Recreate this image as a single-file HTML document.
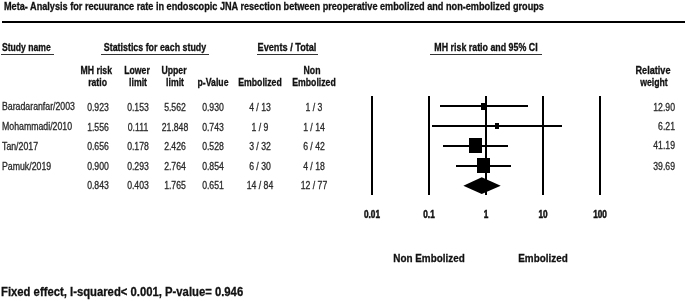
<!DOCTYPE html>
<html><head><meta charset="utf-8"><style>
html,body{margin:0;padding:0;background:#fff;}
body{width:685px;height:301px;position:relative;overflow:hidden;font-family:"Liberation Sans",sans-serif;}
.wrap{position:absolute;left:0;top:0;width:685px;height:301px;filter:blur(0.35px);}
.t{-webkit-text-stroke:0.3px currentColor;}
.t{position:absolute;white-space:nowrap;line-height:1;}
.r{position:absolute;}
</style></head><body><div class="wrap">
<div class="t" style="left:3.9px;top:0.61px;font-size:10.5px;font-weight:bold;transform:scaleX(0.87);transform-origin:0 0;color:#111;">Meta- Analysis for recuurance rate in endoscopic JNA resection between preoperative embolized and non-embolized groups</div>
<div class="r" style="left:1.5px;top:21.3px;width:683px;height:2px;background:#000"></div>
<div class="t" style="left:1.8px;top:43.23px;font-size:10px;font-weight:bold;transform:scaleX(0.86);transform-origin:0 0;color:#111;">Study name</div>
<div class="r" style="left:1px;top:54px;width:53px;height:1px;background:#333"></div>
<div class="t" style="left:154.8px;top:43.23px;font-size:10px;font-weight:bold;transform:translateX(-50%) scaleX(0.885);transform-origin:50% 0;color:#111;">Statistics for each study</div>
<div class="r" style="left:100.5px;top:54px;width:108.5px;height:1px;background:#333"></div>
<div class="t" style="left:287px;top:43.23px;font-size:10px;font-weight:bold;transform:translateX(-50%) scaleX(0.915);transform-origin:50% 0;color:#111;">Events / Total</div>
<div class="r" style="left:256.5px;top:54px;width:61px;height:1px;background:#333"></div>
<div class="t" style="left:485.6px;top:43.23px;font-size:10px;font-weight:bold;transform:translateX(-50%) scaleX(0.885);transform-origin:50% 0;color:#111;">MH risk ratio and 95% CI</div>
<div class="r" style="left:430.3px;top:54px;width:111.7px;height:1px;background:#333"></div>
<div class="t" style="left:112px;top:65.53px;font-size:10px;font-weight:bold;transform:translateX(-100%) scaleX(0.87);transform-origin:100% 0;color:#111;">MH risk</div>
<div class="t" style="left:107px;top:78.23px;font-size:10px;font-weight:bold;transform:translateX(-100%) scaleX(0.87);transform-origin:100% 0;color:#111;">ratio</div>
<div class="t" style="left:136.6px;top:65.53px;font-size:10px;font-weight:bold;transform:translateX(-50%) scaleX(0.87);transform-origin:50% 0;color:#111;">Lower</div>
<div class="t" style="left:137.5px;top:78.23px;font-size:10px;font-weight:bold;transform:translateX(-50%) scaleX(0.87);transform-origin:50% 0;color:#111;">limit</div>
<div class="t" style="left:173.7px;top:65.53px;font-size:10px;font-weight:bold;transform:translateX(-50%) scaleX(0.87);transform-origin:50% 0;color:#111;">Upper</div>
<div class="t" style="left:174.7px;top:78.23px;font-size:10px;font-weight:bold;transform:translateX(-50%) scaleX(0.87);transform-origin:50% 0;color:#111;">limit</div>
<div class="t" style="left:213.1px;top:78.23px;font-size:10px;font-weight:bold;transform:translateX(-50%) scaleX(0.87);transform-origin:50% 0;color:#111;">p-Value</div>
<div class="t" style="left:260px;top:78.23px;font-size:10px;font-weight:bold;transform:translateX(-50%) scaleX(0.87);transform-origin:50% 0;color:#111;">Embolized</div>
<div class="t" style="left:312.2px;top:65.53px;font-size:10px;font-weight:bold;transform:translateX(-50%) scaleX(0.87);transform-origin:50% 0;color:#111;">Non</div>
<div class="t" style="left:313.7px;top:78.23px;font-size:10px;font-weight:bold;transform:translateX(-50%) scaleX(0.87);transform-origin:50% 0;color:#111;">Embolized</div>
<div class="t" style="left:653.2px;top:65.53px;font-size:10px;font-weight:bold;transform:translateX(-50%) scaleX(0.91);transform-origin:50% 0;color:#111;">Relative</div>
<div class="t" style="left:654.4px;top:78.23px;font-size:10px;font-weight:bold;transform:translateX(-50%) scaleX(0.87);transform-origin:50% 0;color:#111;">weight</div>
<div class="t" style="left:1.6px;top:102.33px;font-size:10px;font-weight:normal;transform:scaleX(0.875);transform-origin:0 0;color:#2a2a2a;">Baradaranfar/2003</div>
<div class="t" style="left:97.8px;top:102.23px;font-size:10.6px;font-weight:normal;transform:translateX(-50%) scaleX(0.82);transform-origin:50% 0;color:#2a2a2a;">0.923</div>
<div class="t" style="left:137.9px;top:102.23px;font-size:10.6px;font-weight:normal;transform:translateX(-50%) scaleX(0.82);transform-origin:50% 0;color:#2a2a2a;">0.153</div>
<div class="t" style="left:175.0px;top:102.23px;font-size:10.6px;font-weight:normal;transform:translateX(-50%) scaleX(0.82);transform-origin:50% 0;color:#2a2a2a;">5.562</div>
<div class="t" style="left:213.2px;top:102.23px;font-size:10.6px;font-weight:normal;transform:translateX(-50%) scaleX(0.82);transform-origin:50% 0;color:#2a2a2a;">0.930</div>
<div class="t" style="left:260.2px;top:102.23px;font-size:10.6px;font-weight:normal;transform:translateX(-50%) scaleX(0.82);transform-origin:50% 0;color:#2a2a2a;">4 / 13</div>
<div class="t" style="left:313.8px;top:102.23px;font-size:10.6px;font-weight:normal;transform:translateX(-50%) scaleX(0.82);transform-origin:50% 0;color:#2a2a2a;">1 / 3</div>
<div class="t" style="left:675.0px;top:101.73px;font-size:10.6px;font-weight:normal;transform:translateX(-100%) scaleX(0.82);transform-origin:100% 0;color:#2a2a2a;">12.90</div>
<div class="t" style="left:1.6px;top:121.73px;font-size:10px;font-weight:normal;transform:scaleX(0.875);transform-origin:0 0;color:#2a2a2a;">Mohammadi/2010</div>
<div class="t" style="left:97.8px;top:121.73px;font-size:10.6px;font-weight:normal;transform:translateX(-50%) scaleX(0.82);transform-origin:50% 0;color:#2a2a2a;">1.556</div>
<div class="t" style="left:137.9px;top:121.73px;font-size:10.6px;font-weight:normal;transform:translateX(-50%) scaleX(0.82);transform-origin:50% 0;color:#2a2a2a;">0.111</div>
<div class="t" style="left:175.0px;top:121.73px;font-size:10.6px;font-weight:normal;transform:translateX(-50%) scaleX(0.82);transform-origin:50% 0;color:#2a2a2a;">21.848</div>
<div class="t" style="left:213.2px;top:121.73px;font-size:10.6px;font-weight:normal;transform:translateX(-50%) scaleX(0.82);transform-origin:50% 0;color:#2a2a2a;">0.743</div>
<div class="t" style="left:260.2px;top:121.73px;font-size:10.6px;font-weight:normal;transform:translateX(-50%) scaleX(0.82);transform-origin:50% 0;color:#2a2a2a;">1 / 9</div>
<div class="t" style="left:313.8px;top:121.73px;font-size:10.6px;font-weight:normal;transform:translateX(-50%) scaleX(0.82);transform-origin:50% 0;color:#2a2a2a;">1 / 14</div>
<div class="t" style="left:675.0px;top:121.23px;font-size:10.6px;font-weight:normal;transform:translateX(-100%) scaleX(0.82);transform-origin:100% 0;color:#2a2a2a;">6.21</div>
<div class="t" style="left:1.6px;top:141.53px;font-size:10px;font-weight:normal;transform:scaleX(0.875);transform-origin:0 0;color:#2a2a2a;">Tan/2017</div>
<div class="t" style="left:97.8px;top:140.93px;font-size:10.6px;font-weight:normal;transform:translateX(-50%) scaleX(0.82);transform-origin:50% 0;color:#2a2a2a;">0.656</div>
<div class="t" style="left:137.9px;top:140.93px;font-size:10.6px;font-weight:normal;transform:translateX(-50%) scaleX(0.82);transform-origin:50% 0;color:#2a2a2a;">0.178</div>
<div class="t" style="left:175.0px;top:140.93px;font-size:10.6px;font-weight:normal;transform:translateX(-50%) scaleX(0.82);transform-origin:50% 0;color:#2a2a2a;">2.426</div>
<div class="t" style="left:213.2px;top:140.93px;font-size:10.6px;font-weight:normal;transform:translateX(-50%) scaleX(0.82);transform-origin:50% 0;color:#2a2a2a;">0.528</div>
<div class="t" style="left:260.2px;top:140.93px;font-size:10.6px;font-weight:normal;transform:translateX(-50%) scaleX(0.82);transform-origin:50% 0;color:#2a2a2a;">3 / 32</div>
<div class="t" style="left:313.8px;top:140.93px;font-size:10.6px;font-weight:normal;transform:translateX(-50%) scaleX(0.82);transform-origin:50% 0;color:#2a2a2a;">6 / 42</div>
<div class="t" style="left:675.0px;top:140.43px;font-size:10.6px;font-weight:normal;transform:translateX(-100%) scaleX(0.82);transform-origin:100% 0;color:#2a2a2a;">41.19</div>
<div class="t" style="left:1.6px;top:161.73px;font-size:10px;font-weight:normal;transform:scaleX(0.875);transform-origin:0 0;color:#2a2a2a;">Pamuk/2019</div>
<div class="t" style="left:97.8px;top:161.23px;font-size:10.6px;font-weight:normal;transform:translateX(-50%) scaleX(0.82);transform-origin:50% 0;color:#2a2a2a;">0.900</div>
<div class="t" style="left:137.9px;top:161.23px;font-size:10.6px;font-weight:normal;transform:translateX(-50%) scaleX(0.82);transform-origin:50% 0;color:#2a2a2a;">0.293</div>
<div class="t" style="left:175.0px;top:161.23px;font-size:10.6px;font-weight:normal;transform:translateX(-50%) scaleX(0.82);transform-origin:50% 0;color:#2a2a2a;">2.764</div>
<div class="t" style="left:213.2px;top:161.23px;font-size:10.6px;font-weight:normal;transform:translateX(-50%) scaleX(0.82);transform-origin:50% 0;color:#2a2a2a;">0.854</div>
<div class="t" style="left:260.2px;top:161.23px;font-size:10.6px;font-weight:normal;transform:translateX(-50%) scaleX(0.82);transform-origin:50% 0;color:#2a2a2a;">6 / 30</div>
<div class="t" style="left:313.8px;top:161.23px;font-size:10.6px;font-weight:normal;transform:translateX(-50%) scaleX(0.82);transform-origin:50% 0;color:#2a2a2a;">4 / 18</div>
<div class="t" style="left:675.0px;top:160.73px;font-size:10.6px;font-weight:normal;transform:translateX(-100%) scaleX(0.82);transform-origin:100% 0;color:#2a2a2a;">39.69</div>
<div class="t" style="left:97.8px;top:180.43px;font-size:10.6px;font-weight:normal;transform:translateX(-50%) scaleX(0.82);transform-origin:50% 0;color:#2a2a2a;">0.843</div>
<div class="t" style="left:137.9px;top:180.43px;font-size:10.6px;font-weight:normal;transform:translateX(-50%) scaleX(0.82);transform-origin:50% 0;color:#2a2a2a;">0.403</div>
<div class="t" style="left:175.0px;top:180.43px;font-size:10.6px;font-weight:normal;transform:translateX(-50%) scaleX(0.82);transform-origin:50% 0;color:#2a2a2a;">1.765</div>
<div class="t" style="left:213.2px;top:180.43px;font-size:10.6px;font-weight:normal;transform:translateX(-50%) scaleX(0.82);transform-origin:50% 0;color:#2a2a2a;">0.651</div>
<div class="t" style="left:260.2px;top:180.43px;font-size:10.6px;font-weight:normal;transform:translateX(-50%) scaleX(0.82);transform-origin:50% 0;color:#2a2a2a;">14 / 84</div>
<div class="t" style="left:313.8px;top:180.43px;font-size:10.6px;font-weight:normal;transform:translateX(-50%) scaleX(0.82);transform-origin:50% 0;color:#2a2a2a;">12 / 77</div>
<div class="r" style="left:371.2px;top:96px;width:2px;height:98.5px;background:#000"></div>
<div class="r" style="left:428.2px;top:96px;width:2px;height:98.5px;background:#000"></div>
<div class="r" style="left:485.0px;top:96px;width:2px;height:98.5px;background:#000"></div>
<div class="r" style="left:541.7px;top:96px;width:2px;height:98.5px;background:#000"></div>
<div class="r" style="left:598.9px;top:96px;width:2px;height:98.5px;background:#000"></div>
<div class="r" style="left:439.6497078419805px;top:105.3px;width:88.71667362844431px;height:2px;background:#000"></div>
<div class="r" style="left:480.67171670332306px;top:102.64999999999999px;width:6.7px;height:7.3px;background:#000"></div>
<div class="r" style="left:431.7266113440215px;top:125.1px;width:130.4189430694143px;height:2px;background:#000"></div>
<div class="r" style="left:494.56574534236114px;top:123.44999999999999px;width:4.7px;height:5.3px;background:#000"></div>
<div class="r" style="left:443.3863771312606px;top:144.5px;width:64.49466465150141px;height:2px;background:#000"></div>
<div class="r" style="left:469.1409832685063px;top:137.85px;width:12.9px;height:15.3px;background:#000"></div>
<div class="r" style="left:455.6914242171311px;top:164.7px;width:55.410013283086755px;height:2px;background:#000"></div>
<div class="r" style="left:477.0986866616256px;top:158.29999999999998px;width:12.6px;height:14.8px;background:#000"></div>
<svg class="r" style="left:0;top:0" width="685" height="301"><polygon points="463.36,185.7 481.78,177.29999999999998 500.73,185.7 481.78,194.1" fill="#000"/></svg>
<div class="t" style="left:372.2px;top:210.34px;font-size:10px;font-weight:bold;transform:translateX(-50%) scaleX(0.82);transform-origin:50% 0;color:#111;-webkit-text-stroke:0.5px #111">0.01</div>
<div class="t" style="left:429.2px;top:210.34px;font-size:10px;font-weight:bold;transform:translateX(-50%) scaleX(0.82);transform-origin:50% 0;color:#111;-webkit-text-stroke:0.5px #111">0.1</div>
<div class="t" style="left:486.0px;top:210.34px;font-size:10px;font-weight:bold;transform:translateX(-50%) scaleX(0.82);transform-origin:50% 0;color:#111;-webkit-text-stroke:0.5px #111">1</div>
<div class="t" style="left:542.7px;top:210.34px;font-size:10px;font-weight:bold;transform:translateX(-50%) scaleX(0.82);transform-origin:50% 0;color:#111;-webkit-text-stroke:0.5px #111">10</div>
<div class="t" style="left:599.9px;top:210.34px;font-size:10px;font-weight:bold;transform:translateX(-50%) scaleX(0.82);transform-origin:50% 0;color:#111;-webkit-text-stroke:0.5px #111">100</div>
<div class="t" style="left:429.0px;top:252.72px;font-size:11.2px;font-weight:bold;transform:translateX(-50%) scaleX(0.885);transform-origin:50% 0;color:#111;">Non Embolized</div>
<div class="t" style="left:542.5px;top:252.72px;font-size:11.2px;font-weight:bold;transform:translateX(-50%) scaleX(0.885);transform-origin:50% 0;color:#111;">Embolized</div>
<div class="t" style="left:1.4px;top:286.46px;font-size:12.8px;font-weight:bold;transform:scaleX(0.882);transform-origin:0 0;color:#111;">Fixed effect, I-squared&lt; 0.001, P-value= 0.946</div>
</div></body></html>
